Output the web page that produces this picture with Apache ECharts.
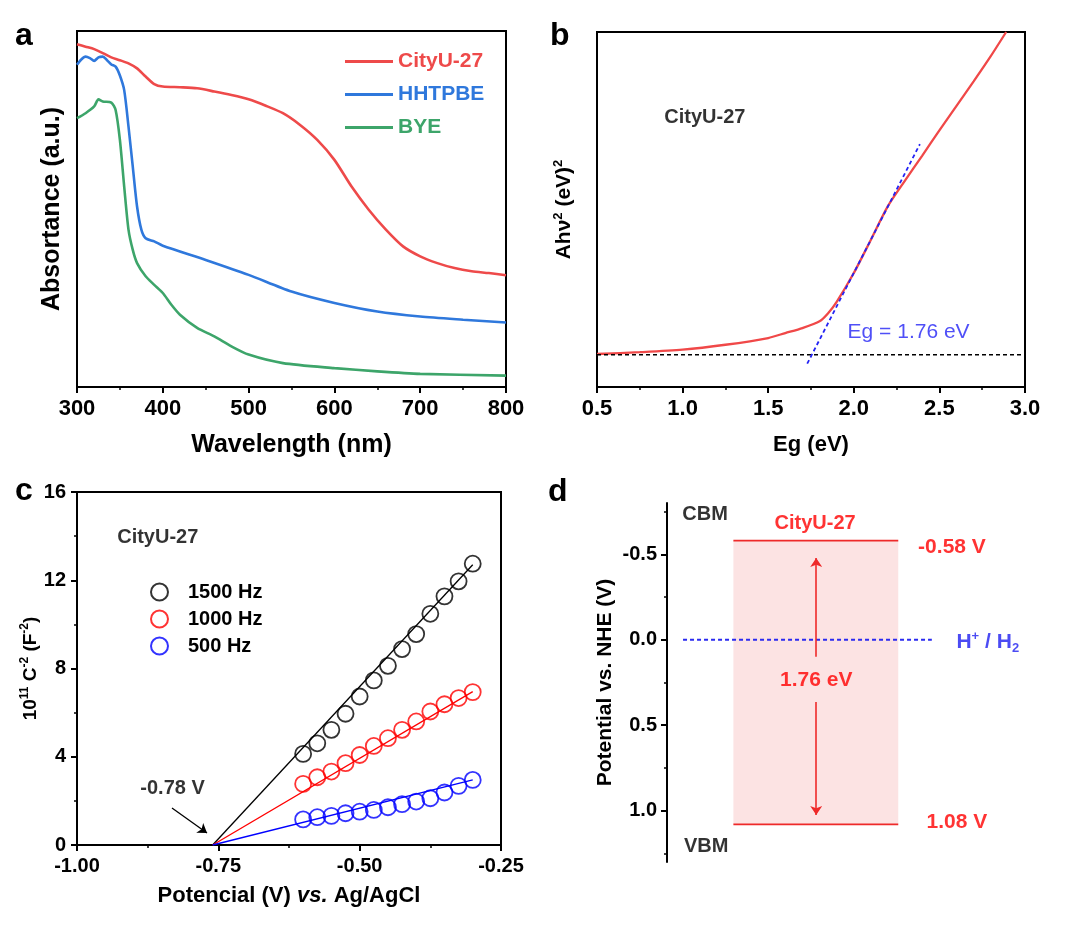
<!DOCTYPE html>
<html><head><meta charset="utf-8">
<script src="https://cdn.jsdelivr.net/npm/echarts@6/dist/echarts.min.js"></script>
<style>html,body{margin:0;padding:0;background:#fff}#c{width:1080px;height:925px}</style>
</head><body><div id="c"></div>
<script>
const FONT = "'Liberation Sans', Arial, sans-serif";

// ---------- Panel a: UV-vis absorbance (wavelength nm, arbitrary units 0-100) ----------
const absCityU27 = [[300,96.3],[310,95.6],[320,94.9],[330,93.8],[340,92.6],[350,91.8],[360,90.9],[370,89.5],[380,87.2],[390,85.1],[400,84.4],[420,84.2],[440,83.9],[460,83.0],[480,82.0],[500,80.8],[520,79.0],[540,76.9],[560,73.6],[580,69.4],[600,63.8],[620,56.3],[640,49.8],[660,44.2],[680,39.5],[700,36.7],[720,34.8],[740,33.4],[760,32.5],[780,32.0],[800,31.4]];
const absHHTPBE = [[300,90.5],[305,92.0],[310,92.8],[315,92.4],[320,91.6],[325,92.6],[330,92.8],[335,91.8],[340,90.6],[345,90.0],[350,87.5],[355,83.4],[360,73.2],[365,61.9],[370,50.7],[375,44.2],[380,41.8],[390,40.9],[400,39.7],[450,35.7],[500,31.5],[550,26.8],[600,23.6],[650,21.2],[700,19.8],[750,18.9],[800,18.1]];
const absBYE = [[300,75.5],[310,76.9],[320,78.8],[325,80.8],[330,80.2],[340,79.9],[345,77.8],[350,69.4],[355,56.3],[360,44.2],[365,38.5],[370,34.8],[380,31.1],[390,28.7],[400,26.4],[410,23.1],[420,20.3],[440,16.6],[460,14.2],[480,11.4],[500,9.1],[540,6.7],[600,5.3],[650,4.4],[700,3.7],[800,3.2]];

// ---------- Panel b: Tauc plot (eV, arbitrary units 0-100) ----------
const tauc = [[0.5,9.3],[0.75,9.8],[1.0,10.5],[1.25,11.9],[1.5,13.8],[1.6,15.2],[1.7,16.6],[1.8,18.5],[1.85,20.8],[1.9,24.0],[2.0,32.1],[2.1,41.5],[2.2,51.0],[2.3,58.2],[2.4,65.2],[2.5,72.3],[2.6,79.2],[2.7,86.1],[2.8,93.2],[2.89,100]];
const taucTangent = [[1.728,6.56],[2.386,68.4]];
const taucBaseline = [[0.5,9.1],[3.0,9.1]];

// ---------- Panel c: Mott-Schottky ----------
const msPotential = [-0.600,-0.575,-0.550,-0.525,-0.500,-0.475,-0.450,-0.425,-0.400,-0.375,-0.350,-0.325,-0.300];
const ms1500 = [4.13,4.61,5.22,5.95,6.73,7.46,8.12,8.88,9.56,10.48,11.27,11.95,12.75];
const ms1000 = [2.77,3.07,3.33,3.71,4.08,4.49,4.84,5.22,5.60,6.05,6.38,6.66,6.93];
const ms500  = [1.16,1.26,1.32,1.44,1.51,1.59,1.71,1.85,1.97,2.12,2.38,2.68,2.95];
const fit1500 = [[-0.76,0],[-0.30,12.7]];
const fit1000 = [[-0.76,0],[-0.30,6.95]];
const fit500  = [[-0.76,0],[-0.30,2.95]];
const fbArrow = [[-0.832,1.68],[-0.770,0.54]];

// ---------- Panel d: band diagram (V vs NHE) ----------
const CBM = -0.58, VBM = 1.08, H2_LEVEL = 0.0, GAP_EV = 1.76;
const bandX = [1.78, 6.20];
const h2LineX = [0.43, 7.10];
const arrowUp = [[4.0,0.10],[4.0,-0.478]];
const arrowDown = [[4.0,0.364],[4.0,1.025]];

const pairs = (xs, ys) => xs.map((x,i)=>[x, ys[i]]);

const cA = {red:'#EE4A4A', blue:'#2F78DC', green:'#3DA56A'};

function baseXAxis(o){
  return Object.assign({
    type:'value', splitLine:{show:false},
    axisLine:{show:true, onZero:false, lineStyle:{color:'#000', width:2}},
    axisTick:{show:true, inside:false, length:6, lineStyle:{color:'#000', width:2}},
    minorTick:{show:true, splitNumber:2, length:3, lineStyle:{color:'#000', width:1.5}},
    axisLabel:{color:'#000', fontWeight:'bold', fontFamily:FONT, fontSize:22, margin:11},
    nameLocation:'middle',
    nameTextStyle:{color:'#000', fontWeight:'bold', fontFamily:FONT, fontSize:22}
  }, o);
}

const chart = echarts.init(document.getElementById('c'), null, {renderer:'canvas'});

// panel d grid geometry
const dTop = 503, dHeight = 359, dMin = -0.8, dMax = 1.3;
const pxPerV = dHeight/(dMax-dMin);

function textPoint(x, y, text, style){
  return {value:[x,y], label:Object.assign({show:true, formatter:text, position:'inside', fontFamily:FONT, fontWeight:'bold', color:'#000', fontSize:20}, style||{})};
}
const textSeries = (xi, yi, data) => ({type:'scatter', xAxisIndex:xi, yAxisIndex:yi, symbolSize:0.1, itemStyle:{color:'transparent'}, silent:true, z:10, data});

const curve = {type:'line', showSymbol:false, smooth:0.25};

const option = {
  animation:false,
  backgroundColor:'#fff',
  textStyle:{fontFamily:FONT},
  grid:[
    {left:77, top:31, width:429, height:356, show:true, borderColor:'#000', borderWidth:2},
    {left:597, top:32, width:428, height:355, show:true, borderColor:'#000', borderWidth:2},
    {left:77, top:492, width:424, height:353, show:true, borderColor:'#000', borderWidth:2},
    {left:667, top:dTop, width:373, height:dHeight},
    {left:667, top:dTop+(-0.5-dMin)*pxPerV, width:373, height:1.5*pxPerV},
    {left:667, top:dTop+(-0.75-dMin)*pxPerV, width:373, height:2.0*pxPerV}
  ],
  xAxis:[
    baseXAxis({gridIndex:0, min:300, max:800, interval:100, name:'Wavelength (nm)', nameGap:46,
      nameTextStyle:{color:'#000', fontWeight:'bold', fontFamily:FONT, fontSize:25}}),
    baseXAxis({gridIndex:1, min:0.5, max:3.0, interval:0.5, name:'Eg (eV)', nameGap:47,
      axisLabel:{color:'#000', fontWeight:'bold', fontFamily:FONT, fontSize:22, margin:11, formatter:v=>v.toFixed(1)}}),
    baseXAxis({gridIndex:2, min:-1.0, max:-0.25, interval:0.25, name:'Potencial (V) {i|vs.} Ag/AgCl', nameGap:40,
      axisLabel:{color:'#000', fontWeight:'bold', fontFamily:FONT, fontSize:20, margin:11, formatter:v=>v.toFixed(2)},
      nameTextStyle:{color:'#000', fontWeight:'bold', fontFamily:FONT, fontSize:22,
        rich:{i:{fontStyle:'italic', fontWeight:'bold', fontFamily:FONT, fontSize:22, color:'#000'}}}}),
    {gridIndex:3, type:'value', min:0, max:10, show:false},
    {gridIndex:4, type:'value', min:0, max:10, show:false},
    {gridIndex:5, type:'value', min:0, max:10, show:false}
  ],
  yAxis:[
    {gridIndex:0, type:'value', min:0, max:100, splitLine:{show:false},
      axisLine:{show:true, lineStyle:{color:'#000', width:2}}, axisTick:{show:false}, axisLabel:{show:false},
      name:'Absortance (a.u.)', nameLocation:'middle', nameGap:12,
      nameTextStyle:{color:'#000', fontWeight:'bold', fontFamily:FONT, fontSize:25}},
    {gridIndex:1, type:'value', min:0, max:100, splitLine:{show:false},
      axisLine:{show:true, lineStyle:{color:'#000', width:2}}, axisTick:{show:false}, axisLabel:{show:false},
      name:'Ahν{sup|2} (eV){sup|2}', nameLocation:'middle', nameGap:20,
      nameTextStyle:{color:'#000', fontWeight:'bold', fontFamily:FONT, fontSize:21,
        rich:{sup:{fontSize:13, fontWeight:'bold', fontFamily:FONT, color:'#000', padding:[0,0,12,0]}}}},
    {gridIndex:2, type:'value', min:0, max:16, interval:4, splitLine:{show:false},
      axisLine:{show:true, lineStyle:{color:'#000', width:2}},
      axisTick:{show:true, length:6, lineStyle:{color:'#000', width:2}},
      minorTick:{show:true, splitNumber:2, length:3, lineStyle:{color:'#000', width:1.5}},
      axisLabel:{color:'#000', fontWeight:'bold', fontFamily:FONT, fontSize:20, margin:11},
      name:'10{sup|11} C{sup|-2} (F{sup|-2})', nameLocation:'middle', nameGap:35,
      nameTextStyle:{color:'#000', fontWeight:'bold', fontFamily:FONT, fontSize:19,
        rich:{sup:{fontSize:12, fontWeight:'bold', fontFamily:FONT, color:'#000', padding:[0,0,11,0]}}}},
    {gridIndex:3, type:'value', min:dMin, max:dMax, inverse:true, splitLine:{show:false},
      axisLine:{show:true, lineStyle:{color:'#000', width:2}}, axisTick:{show:false}, axisLabel:{show:false},
      name:'Potential vs. NHE (V)', nameLocation:'middle', nameGap:51,
      nameTextStyle:{color:'#000', fontWeight:'bold', fontFamily:FONT, fontSize:21}},
    {gridIndex:4, type:'value', min:-0.5, max:1.0, interval:0.5, inverse:true, splitLine:{show:false},
      axisLine:{show:false}, axisTick:{show:true, length:6, lineStyle:{color:'#000', width:2}},
      axisLabel:{color:'#000', fontWeight:'bold', fontFamily:FONT, fontSize:20, margin:10, formatter:v=>v.toFixed(1)}},
    {gridIndex:5, type:'value', min:-0.75, max:1.25, interval:0.5, inverse:true, splitLine:{show:false},
      axisLine:{show:false}, axisTick:{show:true, length:3, lineStyle:{color:'#000', width:1.5}},
      axisLabel:{show:false}}
  ],
  legend:[
    {left:345, top:51, padding:0, orient:'vertical', itemWidth:48, itemHeight:3, itemGap:12, icon:'rect', selectedMode:false,
      textStyle:{fontSize:21, fontWeight:'bold', fontFamily:FONT},
      data:[{name:'CityU-27', textStyle:{color:cA.red}}, {name:'HHTPBE', textStyle:{color:cA.blue}}, {name:'BYE', textStyle:{color:cA.green}}]},
    {left:150, top:582, padding:0, orient:'vertical', itemWidth:17, itemHeight:17, itemGap:7, icon:'circle', selectedMode:false,
      textStyle:{fontSize:20, fontWeight:'bold', fontFamily:FONT, color:'#000', padding:[0,0,0,15]},
      data:[
        {name:'1500 Hz', itemStyle:{color:'transparent', borderColor:'#000', borderWidth:2}},
        {name:'1000 Hz', itemStyle:{color:'transparent', borderColor:'#FF0000', borderWidth:2}},
        {name:'500 Hz', itemStyle:{color:'transparent', borderColor:'#0000FF', borderWidth:2}}]}
  ],
  series:[
    // panel a
    Object.assign({name:'CityU-27', xAxisIndex:0, yAxisIndex:0, data:absCityU27, lineStyle:{color:cA.red, width:2.6}, itemStyle:{color:cA.red}}, curve),
    Object.assign({name:'HHTPBE', xAxisIndex:0, yAxisIndex:0, data:absHHTPBE, lineStyle:{color:cA.blue, width:2.6}, itemStyle:{color:cA.blue}}, curve),
    Object.assign({name:'BYE', xAxisIndex:0, yAxisIndex:0, data:absBYE, lineStyle:{color:cA.green, width:2.6}, itemStyle:{color:cA.green}}, curve),
    // panel b
    {name:'baseline', type:'line', xAxisIndex:1, yAxisIndex:1, data:taucBaseline, showSymbol:false, lineStyle:{color:'#000', width:1.5, type:[4,3]}},
    {name:'tangent', type:'line', xAxisIndex:1, yAxisIndex:1, data:taucTangent, showSymbol:false, lineStyle:{color:'#2323F5', width:1.8, type:[4,3]}, z:3},
    Object.assign({name:'tauc', xAxisIndex:1, yAxisIndex:1, data:tauc, lineStyle:{color:'#F04848', width:2.3}, z:2}, curve),
    textSeries(1,1,[
      textPoint(1.13, 76, 'CityU-27'),
      textPoint(2.32, 15.5, 'Eg = 1.76 eV', {fontWeight:'normal', color:'#2323F5', fontSize:21})
    ]),
    // panel c
    {name:'fit1500', type:'line', xAxisIndex:2, yAxisIndex:2, data:fit1500, showSymbol:false, lineStyle:{color:'#000', width:1.3}},
    {name:'fit1000', type:'line', xAxisIndex:2, yAxisIndex:2, data:fit1000, showSymbol:false, lineStyle:{color:'#FF0000', width:1.3}},
    {name:'fit500', type:'line', xAxisIndex:2, yAxisIndex:2, data:fit500, showSymbol:false, lineStyle:{color:'#0000FF', width:1.3}},
    {name:'1500 Hz', type:'scatter', xAxisIndex:2, yAxisIndex:2, data:pairs(msPotential, ms1500), symbol:'circle', symbolSize:16, itemStyle:{color:'transparent', borderColor:'#000', borderWidth:1.8}},
    {name:'1000 Hz', type:'scatter', xAxisIndex:2, yAxisIndex:2, data:pairs(msPotential, ms1000), symbol:'circle', symbolSize:16, itemStyle:{color:'transparent', borderColor:'#FF0000', borderWidth:1.8}},
    {name:'500 Hz', type:'scatter', xAxisIndex:2, yAxisIndex:2, data:pairs(msPotential, ms500), symbol:'circle', symbolSize:16, itemStyle:{color:'transparent', borderColor:'#0000FF', borderWidth:1.8}},
    {name:'fbArrow', type:'lines', coordinateSystem:'cartesian2d', xAxisIndex:2, yAxisIndex:2, symbol:['none','arrow'], symbolSize:9,
      lineStyle:{color:'#000', width:1.3, opacity:1}, data:[{coords:fbArrow}]},
    textSeries(2,2,[
      textPoint(-0.929, 13.96, 'CityU-27', {position:'right', distance:0}),
      textPoint(-0.831, 2.58, '-0.78 V')
    ]),
    // panel d
    {name:'band', type:'line', xAxisIndex:3, yAxisIndex:3, data:[[bandX[0],CBM],[bandX[1],CBM]], showSymbol:false,
      lineStyle:{color:'#EE2A2A', width:1.6}, z:3,
      markArea:{silent:true, itemStyle:{color:'#FCE3E3'}, data:[[{coord:[bandX[0],CBM]},{coord:[bandX[1],VBM]}]]}},
    {name:'vbmLine', type:'line', xAxisIndex:3, yAxisIndex:3, data:[[bandX[0],VBM],[bandX[1],VBM]], showSymbol:false, lineStyle:{color:'#EE2A2A', width:1.6}, z:3},
    {name:'h2', type:'line', xAxisIndex:3, yAxisIndex:3, data:[[h2LineX[0],H2_LEVEL],[h2LineX[1],H2_LEVEL]], showSymbol:false, lineStyle:{color:'#2A2AF0', width:1.8, type:[4,3]}, z:4},
    {name:'gapArrows', type:'lines', coordinateSystem:'cartesian2d', xAxisIndex:3, yAxisIndex:3, symbol:['none','arrow'], symbolSize:9, z:5,
      lineStyle:{color:'#EE2A2A', width:1.6, opacity:1}, data:[{coords:arrowUp},{coords:arrowDown}]},
    textSeries(3,3,[
      textPoint(1.02, -0.73, 'CBM'),
      textPoint(1.05, 1.212, 'VBM'),
      textPoint(3.97, -0.683, 'CityU-27', {color:'#FF0000'}),
      textPoint(7.64, CBM+0.04, CBM.toFixed(2)+' V', {color:'#FF0000', fontSize:21}),
      textPoint(7.77, VBM-0.01, VBM.toFixed(2)+' V', {color:'#FF0000', fontSize:21}),
      textPoint(4.0, 0.235, GAP_EV.toFixed(2)+' eV', {color:'#FF0000', fontSize:21}),
      textPoint(8.6, H2_LEVEL+0.015, 'H{sup|+} / H{sub|2}', {color:'#1E1EF0', fontSize:21,
        rich:{sup:{fontSize:13, fontWeight:'bold', color:'#1E1EF0', fontFamily:FONT, padding:[0,0,12,0]},
              sub:{fontSize:13, fontWeight:'bold', color:'#1E1EF0', fontFamily:FONT, padding:[12,0,0,0]}}})
    ])
  ],
  graphic:[
    {type:'text', x:15, y:36, style:{text:'a', fontSize:32, fontWeight:'bold', fontFamily:FONT, fill:'#000', verticalAlign:'middle'}},
    {type:'text', x:550, y:36, style:{text:'b', fontSize:32, fontWeight:'bold', fontFamily:FONT, fill:'#000', verticalAlign:'middle'}},
    {type:'text', x:15, y:491, style:{text:'c', fontSize:32, fontWeight:'bold', fontFamily:FONT, fill:'#000', verticalAlign:'middle'}},
    {type:'text', x:548, y:492, style:{text:'d', fontSize:32, fontWeight:'bold', fontFamily:FONT, fill:'#000', verticalAlign:'middle'}}
  ]
};
chart.setOption(option);
</script></body></html>
